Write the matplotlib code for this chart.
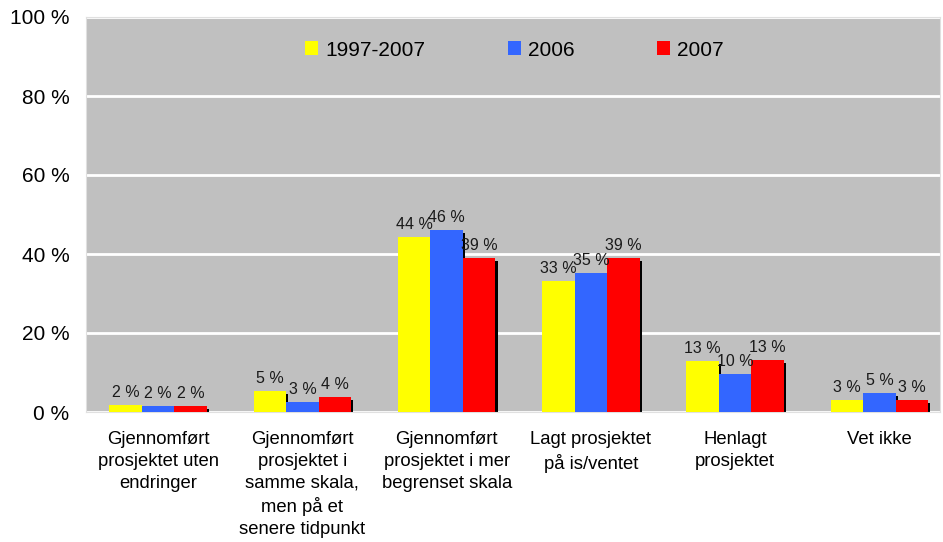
import numpy as np
import matplotlib
matplotlib.use('Agg')
import matplotlib.pyplot as plt

plt.rcParams['font.family'] = ['Liberation Sans', 'DejaVu Sans']

# Data
categories = ['Gjennomført\nprosjektet uten\nendringer',
              'Gjennomført\nprosjektet i\nsamme skala,\nmen på et\nsenere tidpunkt',
              'Gjennomført\nprosjektet i mer\nbegrenset skala',
              'Lagt prosjektet\npå is/ventet',
              'Henlagt\nprosjektet',
              'Vet ikke']
series_names = ['1997-2007', '2006', '2007']
values_1997_2007 = [1.8, 5.3, 44.2, 33.1, 12.9, 3.0]
values_2006 = [1.5, 2.6, 46.0, 35.1, 9.6, 4.8]
values_2007 = [1.5, 3.8, 38.9, 38.9, 13.1, 3.0]
colors = ['#FFFF00', '#3366FF', '#FF0000']

fig = plt.figure(figsize=(9.43, 5.42), dpi=100)
ax = fig.add_axes([86/943, 1-412/542, (940-86)/943, (412-17)/542]) # plot area in pixels
ax.set_facecolor('#C0C0C0')

x = np.arange(len(categories))
width = 0.225
all_values = [values_1997_2007, values_2006, values_2007]

for i, (vals, name, col) in enumerate(zip(all_values, series_names, colors)):
    pos = x + (i - 1) * width
    # shadow behind each bar
    ax.bar(pos + 0.016, np.array(vals), width, bottom=-0.7, color='black', zorder=2)
    ax.bar(pos, vals, width, color=col, label=name, zorder=3)
    for p, v in zip(pos, vals):
        ax.text(p, v + 1.3, '{:.0f} %'.format(round(v + 1e-9)), ha='center', va='bottom',
                fontsize=11.5, color='#1a1a1a', zorder=5)

ax.set_ylim(0, 100)
ax.set_xlim(-0.5, 5.42)
ax.set_yticks(range(0, 101, 20))
ax.set_yticklabels(['{} %'.format(t) for t in range(0, 101, 20)], fontsize=15)
ax.yaxis.grid(True, color='white', linewidth=2, zorder=1)
ax.set_axisbelow(True)
ax.set_xticks(x)
ax.set_xticklabels(categories, fontsize=13.3, linespacing=1.36)
ax.tick_params(axis='y', length=0, pad=12)
ax.tick_params(axis='x', length=0, pad=14)
for s in ax.spines.values():
    s.set_color('#E0E0E0')

leg = ax.legend(loc='center left', bbox_to_anchor=((305-86)/854, (412-50)/395), ncol=3,
                frameon=False, fontsize=15, handlelength=0.63, handleheight=0.63,
                handletextpad=0.34, columnspacing=3.95, borderpad=0, borderaxespad=0)

fig.savefig('out.png', dpi=100)
